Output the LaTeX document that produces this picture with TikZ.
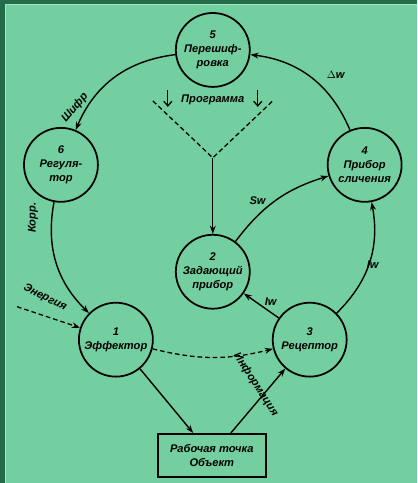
\documentclass[tikz,border=0pt]{standalone}
\usepackage{fontspec}
\setmainfont{Liberation Sans}
\usetikzlibrary{arrows.meta}

\definecolor{bgdark}{HTML}{236B4A}
\definecolor{bglight}{HTML}{74CFA0}
\definecolor{bgedge}{HTML}{A6E4C6}

\begin{document}
\begin{tikzpicture}[
  x=0.03cm, y=0.03cm,
  unit/.style      = {draw, circle, line width=1.5pt, minimum size=2.22cm,
                      inner sep=0pt, align=center,
                      font=\fontsize{9.5}{12}\selectfont\bfseries\itshape},
  objbox/.style    = {draw, line width=1.5pt, minimum width=3.25cm,
                      minimum height=1.3cm, inner sep=1pt, align=center,
                      font=\fontsize{9.5}{12}\selectfont\bfseries\itshape},
  arrow/.style     = {line width=1.2pt, -{Stealth[length=7pt,width=5pt]}},
  darrow/.style    = {line width=1.1pt, dash pattern=on 4pt off 2.5pt,
                      -{Stealth[length=7pt,width=5pt]}},
                       % dashed: energy and information flows
  funnel/.style    = {line width=1.1pt, dash pattern=on 4pt off 2.5pt},
  tick/.style      = {line width=1.1pt, -{Straight Barb[length=4pt,width=7pt]}},
  lbl/.style       = {font=\fontsize{9.5}{11}\selectfont\bfseries\itshape,
                      inner sep=1pt},
]

  % background with the dark frame at left and top
  \fill[bgdark] (0,0) rectangle (417,-483);
  \fill[bglight] (5,-4) rectangle (417,-483);
  \draw[bgedge, line width=0.8pt] (5.6,-483) -- (5.6,-4.6) -- (417,-4.6);
  \useasboundingbox (0,0) rectangle (417,-483);

  \node[unit] (n5) at (213,-50)  {5\\Перешиф-\\ровка};
  \node[unit] (n6) at (61,-165)  {6\\Регуля-\\тор};
  \node[unit] (n4) at (365,-165) {4\\Прибор\\сличения};
  \node[unit] (n2) at (213,-272) {2\\Задающий\\прибор};
  \node[unit] (n1) at (116,-340) {1\\Эффектор};
  \node[unit] (n3) at (310,-340) {3\\Рецептор};
  \node[objbox] (obj) at (212,-456) {Рабочая точка\\Объект};

  % the outer ring
  \draw[arrow] (n5) to[bend right=30] (n6);
  \draw[arrow] (n6) to[bend right=28] (n1);
  \draw[arrow] (n3) to[bend right=28] (n4);
  \draw[arrow] (n4) to[bend right=30] (n5);

  \node[lbl, rotate=50] (l_shifr) at (75,-108) {Шифр};
  \node[lbl, rotate=90] (l_korr) at (33,-218) {Корр.};
  \node[lbl] (l_dw) at (336,-75) {$\Delta$w};
  \node[lbl] (l_iw1) at (373,-265) {Iw};

  % inner links
  \draw[arrow] (n2) to[bend left=18] node[lbl, pos=0.4, above left] {Sw} (n4);
  \draw[arrow] (n3) -- node[lbl, pos=0.45, above right] {Iw} (n2);
  \draw[arrow] (n1) -- (obj);
  \draw[arrow] (obj) -- (n3);
  \draw[darrow] (n1) to[bend right=14] (n3);

  % programme funnel
  \coordinate (pl) at (153,-101);
  \coordinate (pr) at (273,-101);
  \coordinate (pm) at (213,-158);
  \draw[funnel] (pl) -- (pm) -- (pr);
  \coordinate (tl) at (168,-90);
  \coordinate (tr) at (258,-90);
  \draw[tick] (tl) -- ++(0,-17);
  \draw[tick] (tr) -- ++(0,-17);
  \node[lbl] (l_prog) at (213,-100) {Программа};
  \draw[arrow] (pm) -- (n2);

  % energy in, information out
  \coordinate (en) at (17,-307);
  \draw[darrow] (en) -- (n1);
  \node[lbl, rotate=-27] (l_en) at (45,-298) {Энергия};
  \node[lbl, rotate=-57] (l_inf) at (256,-385) {Информация};
\end{tikzpicture}
\end{document}
